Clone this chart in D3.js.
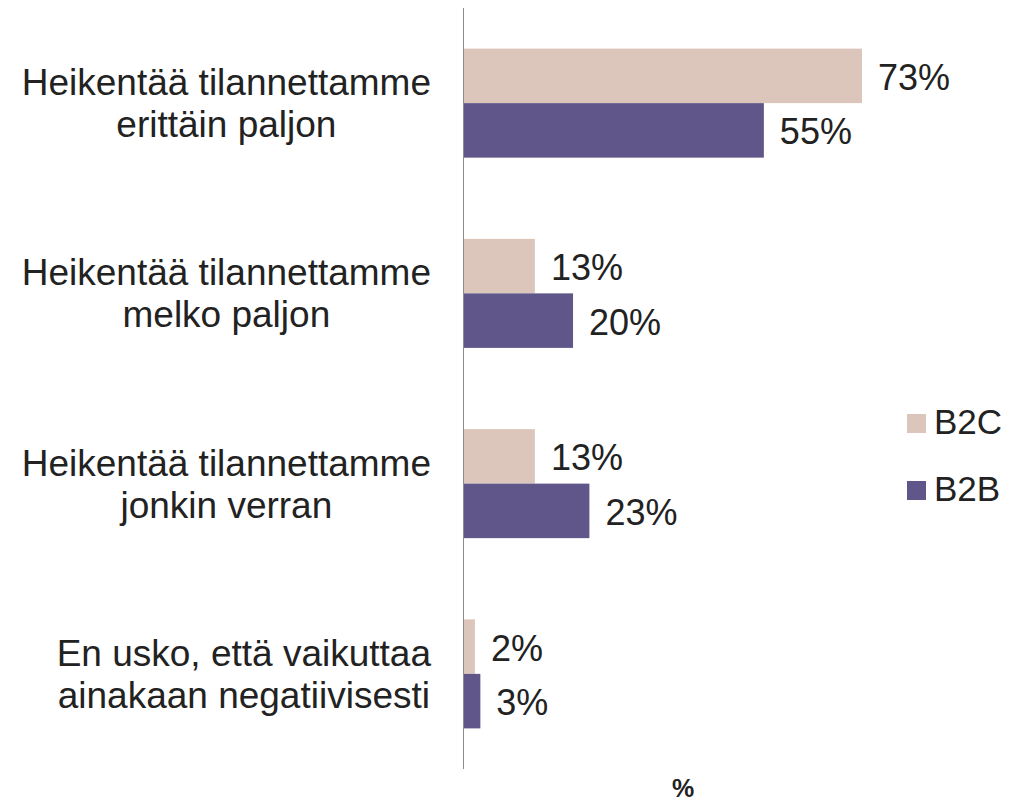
<!DOCTYPE html>
<html><head><meta charset="utf-8">
<script src="https://cdn.jsdelivr.net/npm/d3@7"></script>
<style>html,body{margin:0;padding:0;background:#fff}</style>
</head><body>
<svg id="c" width="1010" height="803"></svg>
<script>
const categories = [
  ["Heikentää tilannettamme", "erittäin paljon"],
  ["Heikentää tilannettamme", "melko paljon"],
  ["Heikentää tilannettamme", "jonkin verran"],
  ["En usko, että vaikuttaa", "ainakaan negatiivisesti"]
];
const seriesNames = ["B2C", "B2B"];
const b2c = [73, 13, 13, 2];
const b2b = [55, 20, 23, 3];
const colors = ["#dcc6bc", "#605689"];
const axisTitle = "%";

const svg = d3.select("#c");
const font = "Liberation Sans, Arial, sans-serif";
const x0 = 464;
const x = d3.scaleLinear().domain([0, 73]).range([x0, 862]);
const y = d3.scaleBand().domain(d3.range(categories.length)).range([8, 769]).paddingInner(0.427).paddingOuter(0.2135);
const ySub = d3.scaleBand().domain(seriesNames).range([0, y.bandwidth()]);
const series = [b2c, b2b];

// bars
seriesNames.forEach((s, si) => {
  const g = svg.append("g");
  g.selectAll("rect").data(series[si]).join("rect")
    .attr("x", x(0))
    .attr("y", (d, i) => y(i) + ySub(s))
    .attr("width", d => x(d) - x(0))
    .attr("height", ySub.bandwidth())
    .attr("fill", colors[si]);
  g.selectAll("text").data(series[si]).join("text")
    .attr("x", d => x(d) + 16)
    .attr("y", (d, i) => y(i) + ySub(s) + ySub.bandwidth() / 2 + 14)
    .attr("font-family", font).attr("font-size", 36).attr("fill", "#222")
    .text(d => d + "%");
});

// axis line
svg.append("line").attr("x1", x0 - 0.5).attr("x2", x0 - 0.5).attr("y1", 8).attr("y2", 769)
  .attr("stroke", "#8c8c8c").attr("stroke-width", 1);

// category labels
categories.forEach((lines, i) => {
  const g = svg.append("g");
  const cy = y(i) + y.bandwidth() / 2;
  const texts = lines.map((l, j) => g.append("text")
    .attr("font-family", font).attr("font-size", 37).attr("fill", "#222")
    .attr("text-anchor", "middle")
    .attr("y", cy - 8 + j * 42)
    .text(l));
  const w = d3.max(texts, t => t.node().getComputedTextLength());
  texts.forEach(t => t.attr("x", 431 - w / 2));
});

// legend
seriesNames.forEach((s, i) => {
  const ly = 414 + i * 67;
  svg.append("rect").attr("x", 907).attr("y", ly).attr("width", 19).attr("height", 19).attr("fill", colors[i]);
  svg.append("text").attr("x", 934).attr("y", ly + 20)
    .attr("font-family", font).attr("font-size", 35).attr("fill", "#222").text(s);
});

// axis title
svg.append("text").attr("x", 683).attr("y", 797).attr("text-anchor", "middle")
  .attr("font-family", font).attr("font-size", 25).attr("font-weight", "bold").attr("fill", "#222").text(axisTitle);
</script>
</body></html>
